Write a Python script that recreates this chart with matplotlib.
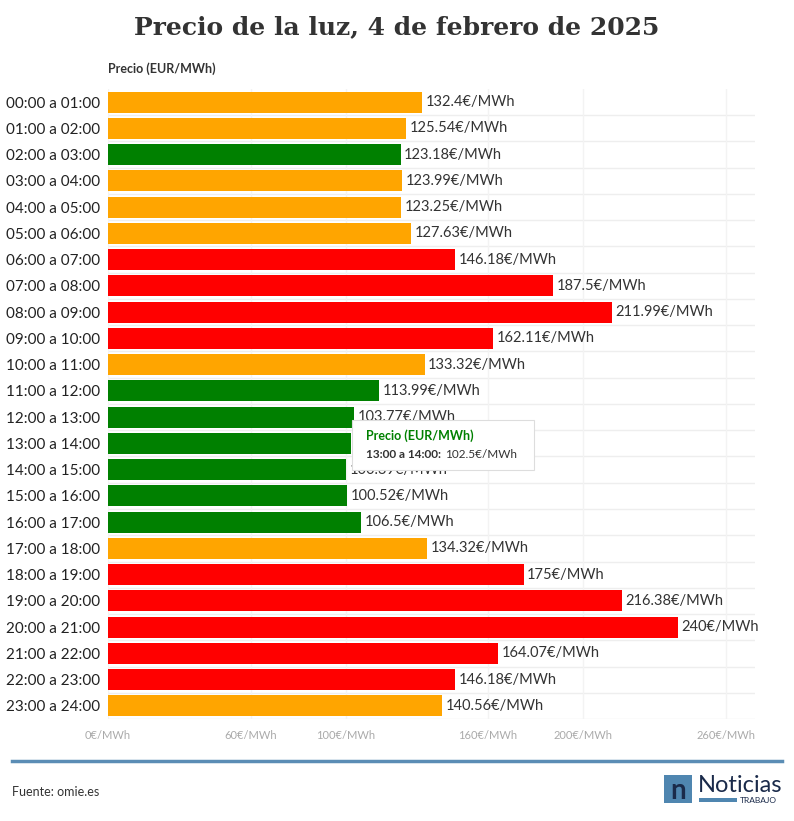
import matplotlib.pyplot as plt
from matplotlib.patches import Rectangle

plt.rcParams['font.family'] = ['Lato', 'DejaVu Sans']

hours = ["00:00 a 01:00", "01:00 a 02:00", "02:00 a 03:00", "03:00 a 04:00", "04:00 a 05:00",
         "05:00 a 06:00", "06:00 a 07:00", "07:00 a 08:00", "08:00 a 09:00", "09:00 a 10:00",
         "10:00 a 11:00", "11:00 a 12:00", "12:00 a 13:00", "13:00 a 14:00", "14:00 a 15:00",
         "15:00 a 16:00", "16:00 a 17:00", "17:00 a 18:00", "18:00 a 19:00", "19:00 a 20:00",
         "20:00 a 21:00", "21:00 a 22:00", "22:00 a 23:00", "23:00 a 24:00"]
prices = [132.4, 125.54, 123.18, 123.99, 123.25, 127.63, 146.18, 187.5, 211.99, 162.11,
          133.32, 113.99, 103.77, 102.5, 100.39, 100.52, 106.5, 134.32, 175, 216.38,
          240, 164.07, 146.18, 140.56]
levels = ["m", "m", "l", "m", "m", "m", "h", "h", "h", "h",
          "m", "l", "l", "l", "l", "l", "l", "m", "h", "h",
          "h", "h", "h", "m"]
level_colors = {"l": "#008000", "m": "#FFA500", "h": "#FF0000"}
tick_vals = [0, 60, 100, 160, 200, 260]

fig = plt.figure(figsize=(7.94, 8.21), dpi=100)
ax = fig.add_axes([108 / 794, 1 - 719 / 821, (755 - 108) / 794, (719 - 89) / 821])

y = list(range(len(hours)))
ax.barh(y, prices, height=0.8, color=[level_colors[l] for l in levels], zorder=3)
for yi, p in zip(y, prices):
    ax.text(p + 1.5, yi, f"{p:g}€/MWh", va="center", ha="left", fontsize=10.5, color="#333333", zorder=4)

ax.set_ylim(len(hours) - 0.5, -0.5)
ax.set_xlim(0, 272.4)
ax.set_yticks(y)
ax.set_yticklabels(hours, fontsize=11, color="#222222")
ax.set_xticks(tick_vals)
ax.set_xticklabels([f"{v}€/MWh" for v in tick_vals], fontsize=8, color="#aaaaaa")
ax.tick_params(axis="y", length=0, pad=6)
ax.tick_params(axis="x", length=0, pad=8)
for yi in y:
    ax.axhline(yi + 0.5, color="#eeeeee", lw=1, zorder=1)
ax.grid(axis="x", color="#f3f3f3", lw=1, zorder=1)
for s in ax.spines.values():
    s.set_visible(False)

fig.text(0.5, 1 - 27 / 821, "Precio de la luz, 4 de febrero de 2025", ha="center", va="center",
         fontsize=18, fontweight="bold", family="DejaVu Serif", color="#333333")
fig.text(108 / 794, 1 - 69 / 821, "Precio (EUR/MWh)", fontsize=9, fontweight="bold",
         color="#333333", va="center")

# tooltip
fig.patches.append(Rectangle((352 / 794, 1 - 470 / 821), 182 / 794, 50 / 821, transform=fig.transFigure,
                             facecolor="white", edgecolor="#dddddd", lw=0.8, zorder=10))
fig.text(366 / 794, 1 - 436 / 821, "Precio (EUR/MWh)", fontsize=9, fontweight="bold",
         color="#008000", va="center", zorder=11)
fig.text(366 / 794, 1 - 454 / 821, "13:00 a 14:00:", fontsize=8.5, fontweight="bold",
         color="#333333", va="center", zorder=11)
fig.text(445 / 794, 1 - 454 / 821, "102.5€/MWh", fontsize=8.5, color="#333333", va="center", zorder=11)

# footer
fig.add_artist(plt.Line2D([12 / 794, 782 / 794], [1 - 761 / 821] * 2, color="#5b8db5", lw=2.5))
fig.text(12 / 794, 1 - 792 / 821, "Fuente: omie.es", fontsize=9, color="#333333", va="center")
fig.patches.append(Rectangle((664 / 794, 1 - 803 / 821), 28 / 794, 28 / 821, transform=fig.transFigure,
                             facecolor="#4f86b0", edgecolor="none"))
fig.text(678 / 794, 1 - 791 / 821, "n", fontsize=20, fontweight="bold", color="#1a2a4a",
         ha="center", va="center")
fig.text(698 / 794, 1 - 785 / 821, "Noticias", fontsize=17, color="#1a2a4a", va="center")
fig.patches.append(Rectangle((699 / 794, 1 - 802 / 821), 38 / 794, 4 / 821, transform=fig.transFigure,
                             facecolor="#4f86b0", edgecolor="none"))
fig.text(740 / 794, 1 - 800 / 821, "TRABAJO", fontsize=6, color="#1a2a4a", va="center")

fig.savefig("out.png", dpi=100)
